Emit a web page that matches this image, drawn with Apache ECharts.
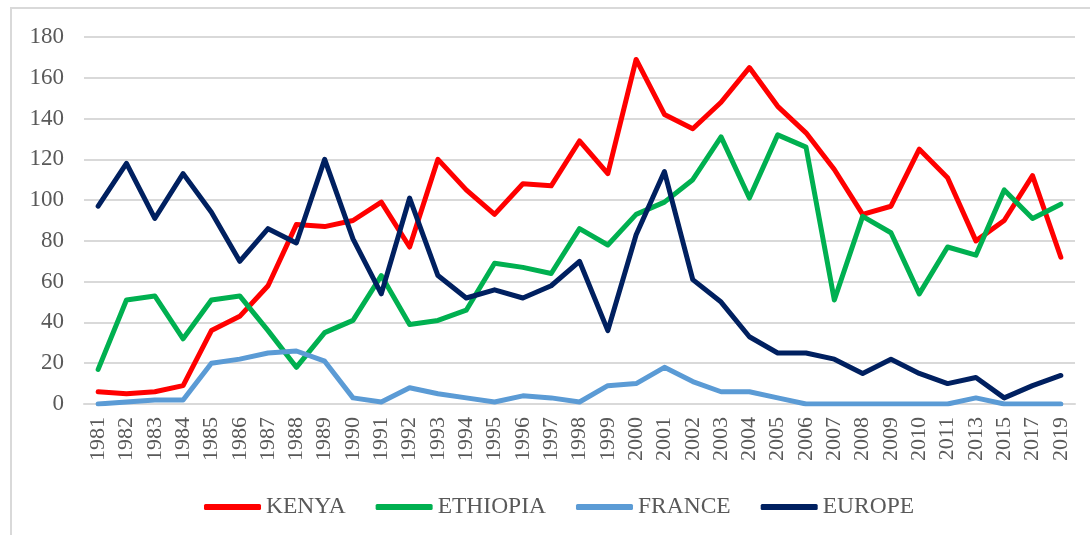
<!DOCTYPE html>
<html>
<head>
<meta charset="utf-8">
<script src="https://cdn.jsdelivr.net/npm/echarts@6/dist/echarts.min.js"></script>
<style type="text/css">
	html, body{
		margin: 0;
		padding: 0;
		background: #fff;
		overflow: hidden;
	}
	.frame{
		position: absolute;
		left: 10px;
		top: 7px;
		width: 1100px;
		height: 560px;
		border: 2px solid #d9d9d9;
		box-sizing: border-box;
	}
	#main{
		position: absolute;
		left: 0;
		top: 0;
		width: 1090px;
		height: 535px;
	}
</style>
</head>
<body>
<div class="frame"></div>
<div id="main"></div>
<script type="text/javascript">
	var years = ['1981','1982','1983','1984','1985','1986','1987','1988','1989','1990',
		'1991','1992','1993','1994','1995','1996','1997','1998','1999','2000',
		'2001','2002','2003','2004','2005','2006','2007','2008','2009','2010',
		'2011','2013','2015','2017','2019'];
	var yTicks = [0, 20, 40, 60, 80, 100, 120, 140, 160, 180];

	var kenya = [6, 5, 6, 9, 36, 43, 58, 88, 87, 90,
		99, 77, 120, 105, 93, 108, 107, 129, 113, 169,
		142, 135, 148, 165, 146, 133, 115, 93, 97, 125,
		111, 80, 90, 112, 72];
	var ethiopia = [17, 51, 53, 32, 51, 53, 36, 18, 35, 41,
		63, 39, 41, 46, 69, 67, 64, 86, 78, 93,
		99, 110, 131, 101, 132, 126, 51, 92, 84, 54,
		77, 73, 105, 91, 98];
	var france = [0, 1, 2, 2, 20, 22, 25, 26, 21, 3,
		1, 8, 5, 3, 1, 4, 3, 1, 9, 10,
		18, 11, 6, 6, 3, 0, 0, 0, 0, 0,
		0, 3, 0, 0, 0];
	var europe = [97, 118, 91, 113, 94, 70, 86, 79, 120, 81,
		54, 101, 63, 52, 56, 52, 58, 70, 36, 83,
		114, 61, 50, 33, 25, 25, 22, 15, 22, 15,
		10, 13, 3, 9, 14];

	var myChart = echarts.init(document.getElementById('main'));
	var font = 'Liberation Serif, Times New Roman, serif';

	function lineSeries(name, data, color){
		return {
			name: name,
			type: 'line',
			data: data,
			symbol: 'none',
			color: color,
			lineStyle: {
				width: 5,
				color: color,
				cap: 'round',
				join: 'round'
			}
		};
	}

	var option = {
		animation: false,
		grid: {
			left: 84,
			right: 15,
			top: 37,
			bottom: 131,
			containLabel: false
		},
		legend: {
			left: 199,
			top: 490,
			icon: 'roundRect',
			itemWidth: 57,
			itemHeight: 6,
			itemGap: 30,
			textStyle: {
				fontFamily: font,
				fontSize: 23.5,
				color: '#595959',
				lineHeight: 24
			},
			data: ['KENYA', 'ETHIOPIA', 'FRANCE', 'EUROPE']
		},
		xAxis: {
			type: 'category',
			data: years,
			boundaryGap: true,
			axisLine: { show: true, lineStyle: { color: '#d9d9d9', width: 2 } },
			axisTick: { show: false },
			axisLabel: {
				rotate: 90,
				interval: 0,
				margin: 13,
				fontFamily: font,
				fontSize: 22,
				color: '#595959'
			}
		},
		yAxis: {
			type: 'value',
			min: yTicks[0],
			max: yTicks[yTicks.length - 1],
			interval: 20,
			axisLine: { show: false },
			axisTick: { show: false },
			splitLine: { lineStyle: { color: '#d9d9d9', width: 2 } },
			axisLabel: {
				margin: 20,
				fontFamily: font,
				fontSize: 23,
				color: '#595959'
			}
		},
		series: [
			lineSeries('KENYA', kenya, '#ff0000'),
			lineSeries('ETHIOPIA', ethiopia, '#00b050'),
			lineSeries('FRANCE', france, '#5b9bd5'),
			lineSeries('EUROPE', europe, '#002060')
		]
	};
	myChart.setOption(option);
</script>
</body>
</html>
